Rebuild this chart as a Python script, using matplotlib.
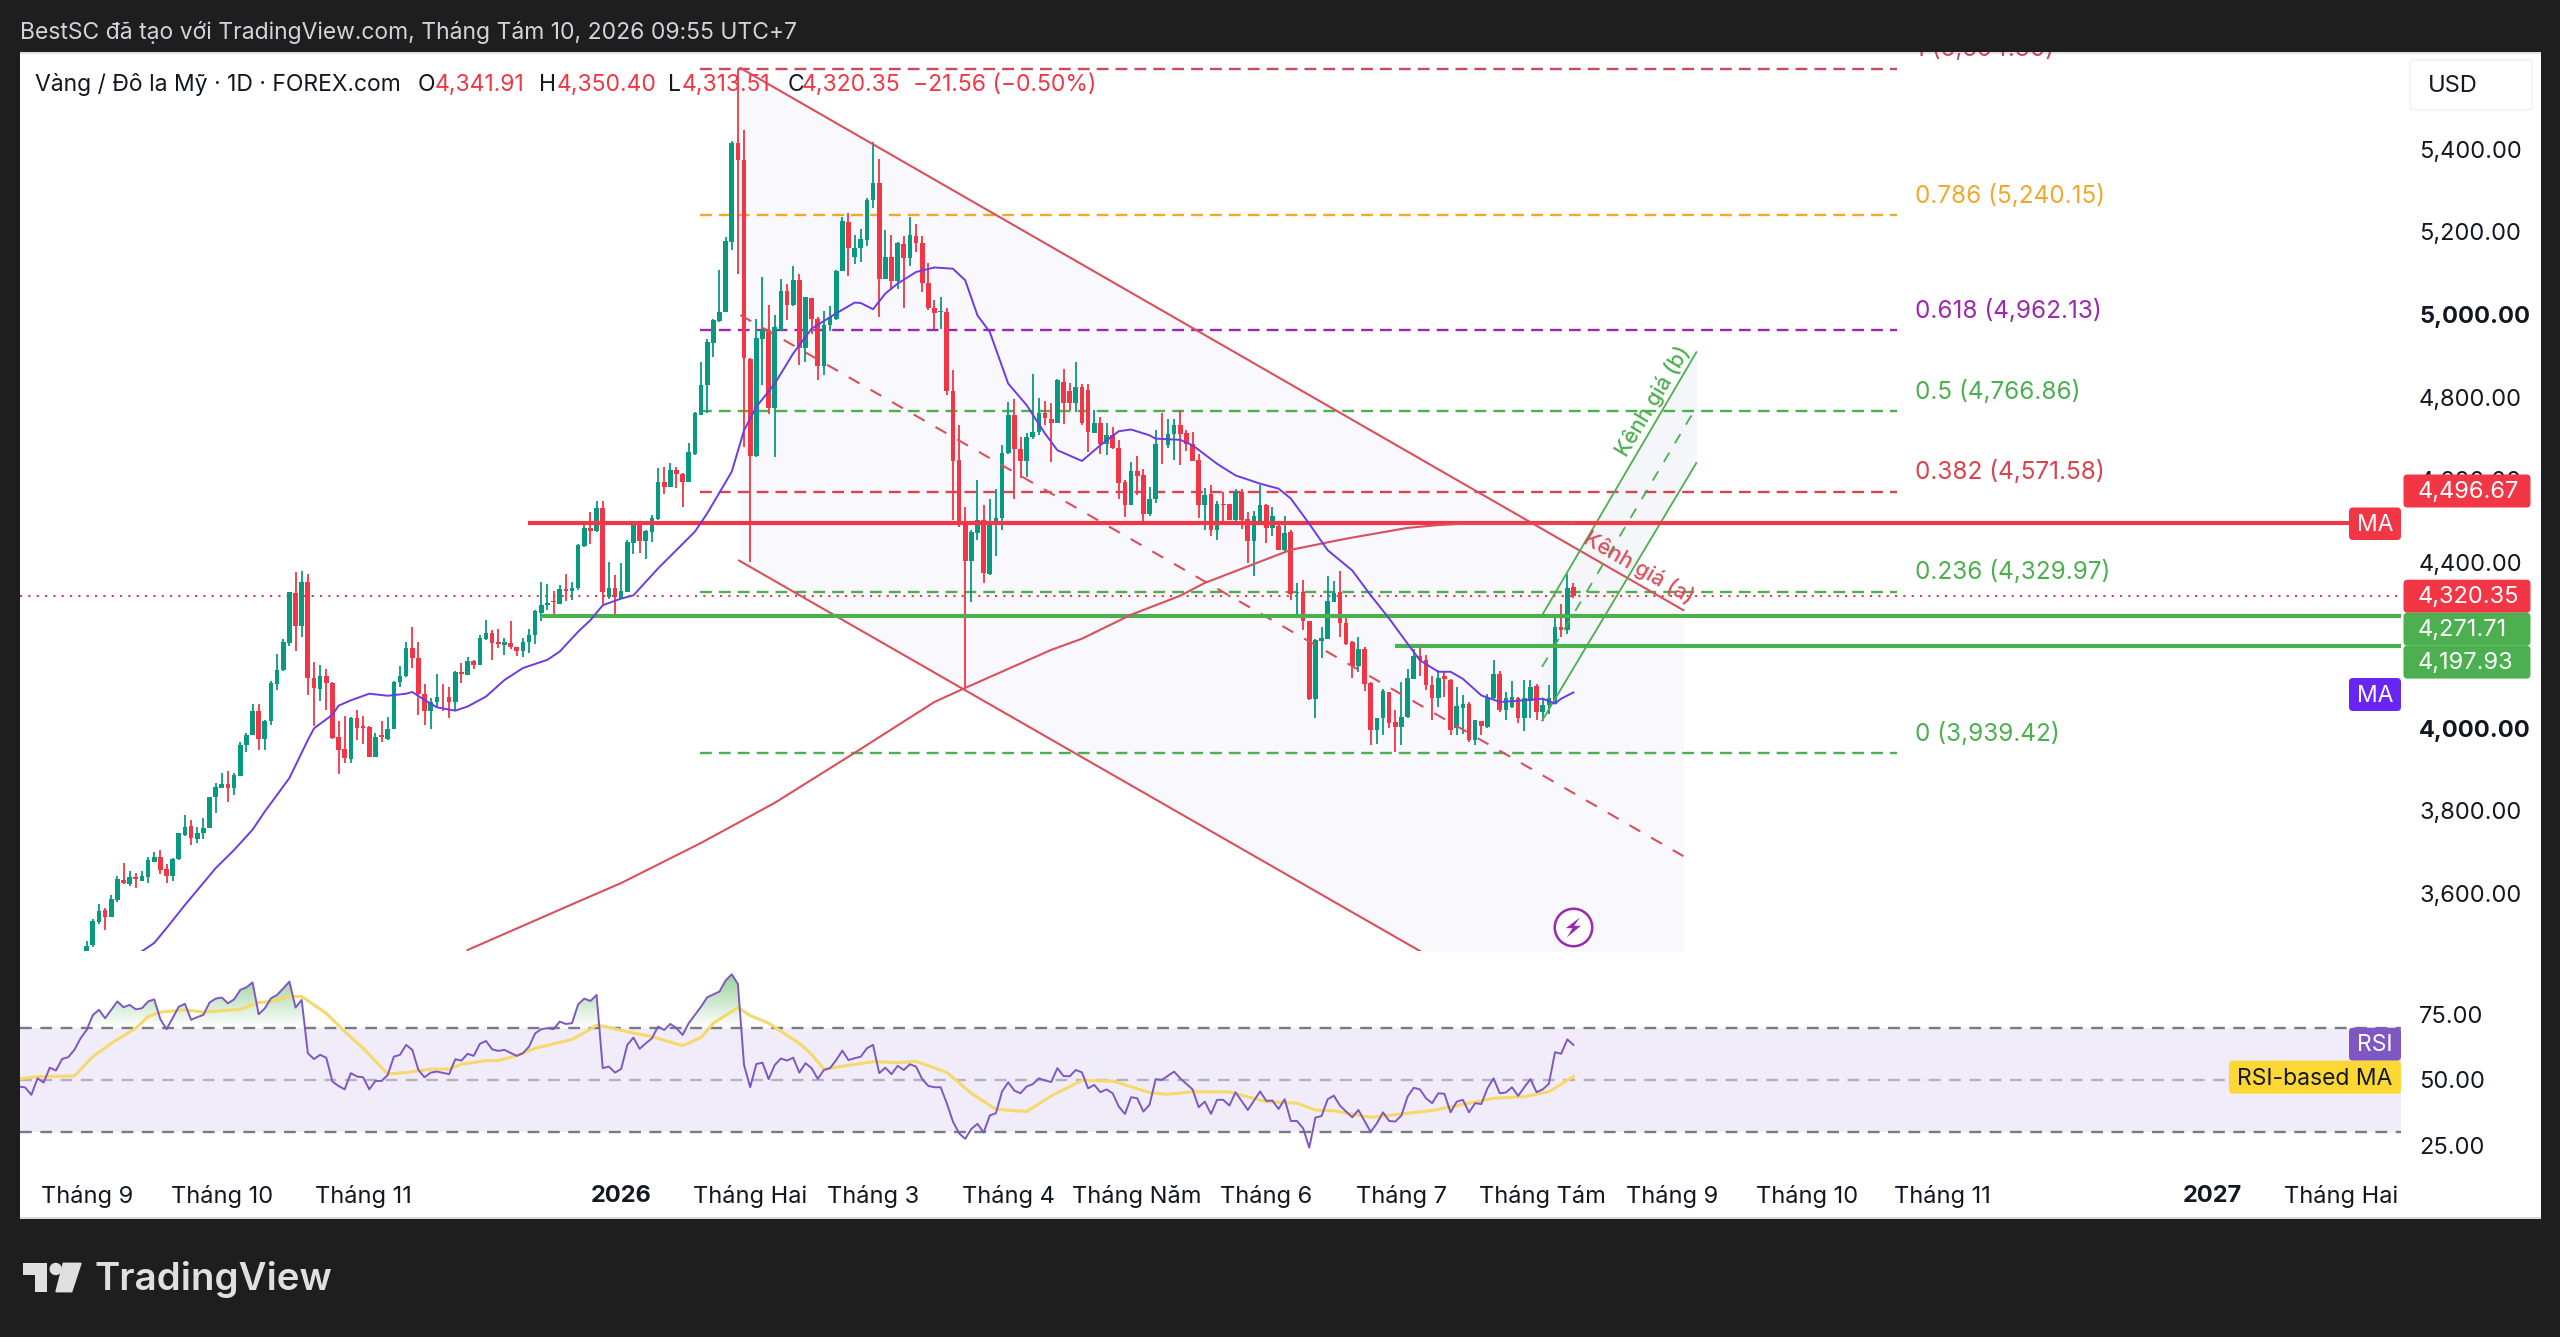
import numpy as np
from matplotlib import pyplot as plt
from matplotlib.patches import Rectangle, FancyBboxPatch, Polygon, Circle
from matplotlib.path import Path
from matplotlib.ticker import FixedLocator
from matplotlib.transforms import IdentityTransform

W, H = 2560, 1337

# candles, one value per trading day
opens = [3460,3476,3531,3559,3543,3585,3633,3623,3639,3631,
         3639,3677,3689,3659,3641,3683,3742,3762,3732,3746,
         3758,3832,3856,3865,3855,3885,3958,3984,4040,3974,
         4016,4107,4141,4205,4326,4247,4354,4122,4095,4126,
         4110,3979,3949,3925,4024,4004,4002,3929,3982,3974,
         3998,4112,4125,4193,4169,4083,4042,4064,4076,4075,
         4063,4135,4129,4161,4153,4215,4229,4207,4200,4205,
         4195,4187,4207,4225,4279,4298,4307,4300,4336,4332,4338,
         4440,4485,4477,4531,4317,4338,4313,4330,4448,
         4495,4453,4475,4505,4594,4583,4625,4614,4595,4664,
         4757,4829,4932,4984,5007,5176,5414,5375,4892,4658,
         4942,4962,4773,4962,5057,5023,5083,4918,5040,4990,
         4875,4974,4989,5106,5224,5140,5162,5181,5277,5319,
         5086,5140,5082,5170,5136,5190,5174,5077,5017,5006,
         5007,4816,4648,4499,4404,4471,4503,4372,4492,4507,
         4666,4757,4674,4646,4703,4716,4762,4747,4738,
         4838,4815,4785,4826,
         4818,4714,4738,4688,4708,4678,4595,
         4539,4621,4611,4517,4555,4688,4684,4712,4732,4713,
         4686,4649,4539,4565,4480,4543,4541,4502,4571,4505,
         4452,4490,4540,4485,4489,4430,4474,4327,4329,4259,
         4069,4211,4216,4305,4329,4255,4208,4149,4190,4109,
         3996,4023,4087,4015,4003,4027,4119,4173,4164,4103,
         4073,4125,4117,3999,4049,4059,3972,4017,4003,4073,
         4130,4044,4051,4073,4025,4065,4101,4039,4055,4059,
         4244,4236,4341.91]
highs = [3484,3539,3575,3564,3597,3643,3673,3655,3649,3655,
         3687,3700,3705,3672,3685,3747,3789,3778,3760,3782,
         3833,3868,3892,3895,3891,3967,3989,4057,4057,4020,
         4113,4178,4216,4329,4378,4379,4373,4159,4153,4142,
         4112,4016,4028,4026,4044,4028,4004,3989,4016,4026,
         4113,4149,4209,4244,4209,4106,4072,4131,4107,4099,
         4137,4158,4171,4165,4225,4262,4236,4239,4217,4258,
         4197,4217,4239,4286,4352,4349,4332,4347,4373,4354,4446,
         4493,4523,4549,4549,4402,4370,4400,4454,4499,
         4496,4480,4515,4628,4632,4640,4632,4617,4690,4764,
         4886,4940,4990,5109,5188,5420,5593,5447,4894,4990,
         5090,5023,4998,5085,5075,5118,5099,5043,5041,4994,
         5009,5020,5107,5235,5246,5192,5206,5281,5418,5377,
         5204,5192,5176,5190,5236,5220,5190,5126,5036,5043,
         5015,4866,4733,4535,4479,4600,4539,4553,4579,4684,
         4789,4797,4704,4714,4856,4799,4791,4785,4844,
         4868,4835,4885,4832,
         4831,4770,4752,4738,4728,4696,4599,
         4643,4657,4627,4583,4720,4762,4747,4747,4770,4722,
         4716,4663,4581,4587,4549,4571,4541,4579,4579,4522,
         4526,4589,4543,4535,4498,4513,4478,4351,4359,4260,
         4216,4244,4367,4355,4379,4269,4211,4219,4196,4111,
         4023,4095,4087,4043,4111,4142,4190,4200,4176,4125,
         4140,4136,4119,4099,4079,4063,4019,4017,4083,4164,
         4137,4087,4114,4075,4115,4117,4107,4073,4103,4267,
         4301,4372,4350.40]
lows = [3456,3470,3526,3512,3542,3580,3623,3619,3613,3630,
        3626,3675,3646,3626,3631,3681,3738,3718,3722,3732,
        3757,3794,3855,3820,3838,3884,3942,3983,3946,3946,
        4008,4091,4139,4199,4187,4221,4079,4005,4065,4044,
        3974,3888,3915,3915,3971,3962,3929,3929,3967,3971,
        3997,4098,4123,4145,4032,4008,3998,4052,4040,4023,
        4040,4110,4129,4142,4152,4212,4165,4193,4176,4191,
        4175,4171,4181,4204,4258,4286,4271,4299,4308,4310,4335,
        4438,4446,4475,4301,4313,4273,4311,4329,4422,
        4424,4408,4450,4504,4567,4582,4580,4535,4594,4660,
        4757,4761,4898,4982,5006,5156,5099,4680,4402,4656,
        4829,4759,4656,4961,4986,5020,4878,4886,4954,4841,
        4853,4961,4986,5105,5094,5122,5127,5165,5259,4994,
        5085,5059,5063,5015,5117,5152,5055,5011,4966,4966,
        4805,4503,4487,4098,4305,4454,4350,4370,4416,4480,
        4664,4555,4604,4608,4700,4708,4733,4644,4737,
        4735,4770,4765,4733,
        4668,4714,4663,4661,4676,4555,4510,
        4539,4563,4496,4512,4545,4639,4678,4649,4637,4670,
        4646,4509,4480,4464,4454,4490,4502,4501,4482,4399,
        4368,4490,4447,4464,4430,4423,4310,4270,4236,4067,
        4023,4170,4216,4305,4220,4200,4122,4136,4090,3959,
        3961,3982,3999,3942,3958,4025,4119,4127,4091,4019,
        4051,4075,3982,3982,3986,3966,3958,3982,4001,4071,
        4039,4020,4049,4011,3993,4023,4020,4017,4035,4059,
        4220,4228,4313.51]
closes = [3473,3532,3558,3544,3586,3634,3625,3639,3634,3641,
          3680,3689,3657,3641,3683,3746,3760,3733,3747,3758,
          3832,3857,3864,3855,3887,3959,3984,4040,3974,4017,
          4108,4141,4208,4328,4247,4354,4122,4096,4126,4110,
          3975,3947,3927,4025,4000,4000,3929,3979,3979,3998,
          4112,4125,4193,4169,4083,4042,4064,4075,4075,4063,
          4135,4130,4162,4153,4217,4229,4205,4204,4207,4195,
          4187,4208,4225,4282,4298,4303,4304,4336,4332,4338,4442,
          4483,4477,4533,4330,4338,4316,4332,4450,4495,
          4453,4477,4507,4595,4583,4625,4614,4595,4668,4762,
          4829,4934,4986,5007,5178,5415,5375,4894,4658,4944,
          4962,4773,4969,5057,5023,5083,4918,5043,4989,4875,
          4974,4994,5106,5227,5162,5162,5184,5278,5319,5087,
          5140,5082,5172,5136,5192,5173,5077,5015,5003,5009,
          4816,4646,4491,4404,4473,4503,4374,4493,4507,4666,
          4757,4676,4646,4703,4716,4762,4749,4738,4841,
          4785,4785,4825,4738,
          4716,4738,4688,4708,4678,4593,4539,
          4621,4610,4517,4555,4688,4686,4712,4734,4712,4686,
          4646,4539,4564,4480,4541,4539,4502,4571,4504,4452,
          4514,4539,4485,4514,4430,4472,4323,4329,4259,4069,
          4212,4218,4307,4327,4255,4204,4149,4190,4107,3996,
          4023,4090,4012,4003,4027,4122,4173,4164,4103,4073,
          4122,4119,3996,4053,4059,3972,4019,4004,4073,4130,
          4044,4073,4075,4025,4073,4099,4039,4055,4073,4244,
          4238,4339,4320.35]

# moving averages, as (bar, price) readings
ma50_bar = [9,11,13,16,21,24,27,29,33,36,37,40,41,43,46,49,52,53,55,57,60,62,65,68,71,75,77,80,
            82,84,87,89,93,99,101,105,107,109,112,115,118,122,125,126,128,130,132,135,138,141,143,
            145,147,150,153,156,158,162,165,168,170,173,174,178,180,184,187,191,194,196,199,202,206,
            209,212,215,217,220,222,224,227,230,234,237,239,240,242]
ma50_val = [3460,3480,3516,3572,3661,3705,3754,3798,3879,3971,3999,4032,4054,4067,4083,4078,4083,4087,
            4068,4050,4042,4052,4076,4116,4145,4165,4185,4233,
            4261,4297,4313,4321,4386,4475,4519,4620,4720,4777,4833,4906,4966,5003,5029,5028,5013,5051,
            5075,5103,5114,5111,5083,4998,4958,4833,4781,4712,4672,4646,4684,4718,4722,4708,4700,4697,
            4684,4639,4611,4591,4579,4555,4494,4430,4381,4321,4265,4204,4164,4136,4136,4119,4079,4063,
            4067,4071,4059,4071,4086]
ma200_bar = [62,80,87,100,112,125,138,143,157,162,170,178,182,196,205,215,220,224,240,242]
ma200_val = [3463,3580,3625,3722,3819,3940,4063,4097,4189,4216,4274,4320,4351,4431,4458,4484,4491,4494,4494,4496]

# RSI pane
rsi_bar = list(range(-11, 58)) + list(range(59, 69)) + list(range(70, 99)) + [100, 101] \
    + list(range(103, 176)) + [177, 178] + list(range(180, 188)) \
    + [189, 191] + list(range(192, 208)) + list(range(209, 243))
rsi_val = [47.5,47.1,44.3,50.6,49,54.7,53.6,58,58.7,61.5,65.9,69.1,74.8,76.8,73.6,76.8,80,77.8,78.7,77,77.4,80,80.8,73.2,69.4,
           73.7,78,79.1,73,74,74.9,79.6,81.1,81.5,79.3,80.8,84.4,85.4,87.3,75.1,77.4,81.2,82.5,85,87.6,77.7,80.6,60.2,58,59.6,58.5,
           49.4,47.7,46.4,52.6,51.3,51,46.4,49.6,49.6,51.9,58.9,59.6,63.4,61.5,53.8,51,52.8,53.2,
           52.2,57.9,57.4,60,59.2,63.8,64.9,61.7,61.1,61.5,
           59.2,60.2,62.7,67.8,69.4,69.8,69.4,72.3,71.4,71.7,78.9,81.1,80.2,82.5,54.5,55.1,52.8,54.2,63.4,66.2,61.9,64,65.9,70.4,69.1,71.4,69.8,67.2,71.7,
           78,81.6,
           83.8,88,90.4,86.7,55.7,47.2,56.1,56.6,50.3,55.7,58.2,57.4,58.5,52.8,56.4,54.5,50.4,53.8,54.5,57.6,61.2,57.6,58.3,58.9,62.1,63.4,52.6,54.7,52.2,55.4,53.8,56,55.1,50.3,47.7,47.2,47.2,41.1,34.1,29.6,27.5,31.3,33.2,29.9,36.4,37.3,45.6,49.1,45.9,44.9,47.5,48.4,50.6,49.8,49.2,54.5,51.5,51.4,53.8,52.9,46.8,48.1,45.3,46.4,44.9,39.8,37,43.4,43,37.9,40.5,50.3,50,
           53.2,50.6,
           46.4,39.6,41.7,37,42.4,42.4,40.2,45.3,
           38.5,45.6,
           42,42.1,38.9,42.6,34.3,34.3,31.5,24.1,35.6,36.2,42.6,44,40.2,37.9,35.7,38.5,
           30.1,33.4,37.6,34.3,34.1,36.4,43.6,47,46.4,43,41.1,44.9,44.7,37.6,41.7,42.4,37.6,41.1,40.8,46.8,50.6,44.9,45.2,47.2,43.9,47.2,50.3,45.3,46.4,48.5,60.6,60,65.5,63.4]
rsi_ma_bar = [-11,-8,-2,1,4,8,10,12,16,19,22,25,28,30,33,35,39,42,45,49,52,56,59,61,65,67,70,73,79,82,83,85,88,92,97,
              100,102,106,108,111,116,118,120,124,128,132,135,140,144,148,153,157,162,167,173,176,180,186,192,197,
              200,203,209,219,225,229,234,238,242]
rsi_ma_val = [50.4,51.3,51.5,58.9,64,69.8,74.2,75.9,76.8,75.9,76.5,77,79.6,80,81.9,81.9,75.5,68.5,62.1,52.3,52.8,54.1,54.2,56,57.4,57.4,59.3,62.1,65.5,69.4,71,70.1,68.4,66.6,63.1,
              66.2,71.7,77.7,74.6,71.7,64,59.8,54.1,55.6,57,56.6,57.1,52.9,44.9,38.8,37.9,43.9,49.8,49.6,45.2,44.5,45.5,45.4,41.7,41.1,
              38.5,38.2,35.7,38.3,41.1,43,43.6,45.5,51.3]

# fib levels: ratio, price, colour
fib_ratio = ['1', '0.786', '0.618', '0.5', '0.382', '0.236', '0']
fib_price = [5594.30, 5240.15, 4962.13, 4766.86, 4571.58, 4329.97, 3939.42]
fib_color = ['#c94a5b', '#f0a92a', '#9c27b0', '#4caf50', '#d8434f', '#4caf50', '#4caf50']

# 4,200.00 sits behind the price tags in the picture, so it is left out
price_ticks = [3600, 3800, 4000, 4400, 4600, 4800, 5000, 5200, 5400]
rsi_ticks = [25, 50, 75]
time_bars = [0, 22, 45, 87, 108, 128, 150, 171, 192, 214, 237, 258, 280, 302, 346, 367]
time_labels = ['Tháng 9', 'Tháng 10', 'Tháng 11', '2026', 'Tháng Hai', 'Tháng 3', 'Tháng 4', 'Tháng Năm',
               'Tháng 6', 'Tháng 7', 'Tháng Tám', 'Tháng 9', 'Tháng 10', 'Tháng 11', '2027', 'Tháng Hai']

# drawn channels, (bar, price) ends
red_top = ([106.4, 259.9], [5596.5, 4285])
red_mid = ([106.4, 259.9], [4999, 3690])
red_low = ([106.2, 259.9], [4405, 3095])
green_top = ([236.9, 262], [4273, 4909])
green_mid = ([236.9, 262], [4148, 4776])
green_low = ([236.9, 262], [4018, 4641])

RED = '#f23645'
GREEN = '#089981'
LINE_GREEN = '#4caf50'
PURPLE = '#7e57c2'
YELLOW = '#f5d96b'

plt.rcParams['font.family'] = ['Inter', 'DejaVu Sans']
plt.rcParams['font.size'] = 17


def fx(x):
    return x / W


def fy(y):
    return 1 - y / H


def box(x0, y0, x1, y1, color, zorder=5, rounded=False, edge='none'):
    if rounded:
        p = FancyBboxPatch((x0, H - y1), x1 - x0, y1 - y0, boxstyle='round,pad=0,rounding_size=4',
                           transform=IdentityTransform(), facecolor=color, edgecolor=edge,
                           linewidth=1.5, zorder=zorder)
    else:
        p = Rectangle((x0, H - y1), x1 - x0, y1 - y0, transform=IdentityTransform(),
                      facecolor=color, edgecolor=edge, zorder=zorder)
    fig.add_artist(p)
    return p


def label(x, y, s, color='#131722', size=17, ha='left', weight='normal', zorder=6):
    return fig.text(fx(x), fy(y), s, color=color, fontsize=size, ha=ha, va='center', fontweight=weight, zorder=zorder)


fig = plt.figure(figsize=(W / 100, H / 100), dpi=100, facecolor='#1e1e1e')
box(20, 52, 2541, 1219, 'white', zorder=-2)
box(20, 1217, 2541, 1219, '#d9d9d9', zorder=-1)
box(20, 52, 2541, 54, '#e2e2e2', zorder=-1)

ax = fig.add_axes([fx(20), fy(951), (2401 - 20) / W, (951 - 52) / H], facecolor='none')
ax2 = fig.add_axes([fx(20), fy(1172), (2401 - 20) / W, (1172 - 951) / H], facecolor='none')

xlim = (-10.85, 376.7)
bars = np.arange(len(opens))
o = np.array(opens)
c = np.array(closes)
up = c >= o

# channel shading first, everything else goes on top
ax.fill_between(red_top[0], red_top[1], red_low[1], color='#f9f8fd', lw=0, zorder=1)
ax.fill_between(green_top[0], green_top[1], green_low[1], color='#f4f6fa', lw=0, zorder=1.1)

for ratio, price, col in zip(fib_ratio, fib_price, fib_color):
    ax.plot([99.8, 294.7], [price, price], color=col, lw=1.7, dashes=(5, 3), zorder=2)
    ax.text(297.6, price + 47, '%s (%s)' % (ratio, format(price, ',.2f')), color=col, fontsize=17.5,
            va='center', ha='left', clip_on=True, zorder=2)

ax.axhline(closes[-1], color=RED, lw=1.5, ls=(0, (1, 3)), zorder=2)

# candles
ax.vlines(bars, lows, highs, colors=[GREEN if u else RED for u in up], lw=1.3, zorder=3)
ax.bar(bars[up], (c - o)[up], bottom=o[up], width=0.76, color=GREEN, lw=0, zorder=3.1)
ax.bar(bars[~up], (o - c)[~up], bottom=c[~up], width=0.76, color=RED, lw=0, zorder=3.1)

ax.plot(*red_top, color='#d9505c', lw=1.5, zorder=4)
ax.plot(*red_low, color='#d9505c', lw=1.5, zorder=4)
ax.plot(*red_mid, color='#d9505c', lw=1.5, dashes=(6, 6), zorder=4)
ax.plot(*green_top, color=LINE_GREEN, lw=1.3, zorder=4)
ax.plot(*green_low, color=LINE_GREEN, lw=1.3, zorder=4)
ax.plot(*green_mid, color=LINE_GREEN, lw=1.3, dashes=(6, 6), zorder=4)

ax.plot([71.8, 368.2], [4496.67, 4496.67], color=RED, lw=3, solid_capstyle='butt', zorder=4.2)
ax.plot([74, 377], [4271.71, 4271.71], color=LINE_GREEN, lw=3, solid_capstyle='butt', zorder=4.2)
ax.plot([213, 377], [4197.93, 4197.93], color=LINE_GREEN, lw=3, solid_capstyle='butt', zorder=4.2)

ax.plot(ma200_bar, ma200_val, color='#d9505c', lw=1.5, zorder=4.4)
ax.plot(ma50_bar, ma50_val, color='#6c3be4', lw=1.4, zorder=4.5)

ax.text(252.6, 4388, 'Kênh giá (a)', color='#d9505c', fontsize=15.5, fontweight='medium', rotation=-30,
        ha='center', va='center', rotation_mode='anchor', zorder=5)
ax.text(255, 4790, 'Kênh giá (b)', color=LINE_GREEN, fontsize=15.5, fontweight='medium', rotation=59,
        ha='center', va='center', rotation_mode='anchor', zorder=5)

# replay icon, circle with a bolt
bolt = Path([(19, 30), (-23, -2), (-3, -2), (-20, -30), (22, 5), (2, 5), (19, 30)], closed=True)
ax.scatter([241.9], [3519], s=729, facecolor='white', edgecolor='#9c27b0', linewidth=1.8, zorder=5)
ax.scatter([241.9], [3519], s=207, marker=bolt, color='#9c27b0', linewidth=0, zorder=5.1)

ax.set_xlim(xlim)
ax.set_ylim(3460.6, 5635.2)
ax.yaxis.tick_right()
ax.set_yticks(price_ticks)
ax.set_yticklabels([format(t, ',.2f') for t in price_ticks], color='#131722')
for t, lab in zip(price_ticks, ax.get_yticklabels()):
    if t in (4000, 5000):
        lab.set_fontweight('bold')
ax.tick_params(axis='y', length=0, pad=13)
ax.tick_params(axis='x', length=0, labelbottom=False)
for s in ax.spines.values():
    s.set_visible(False)

# RSI pane
ax2.axhspan(30, 70, color='#f1ecfa', lw=0, zorder=1)
ax2.plot(rsi_bar, rsi_val, color=PURPLE, lw=1.4, zorder=4)
ax2.plot(rsi_ma_bar, rsi_ma_val, color=YELLOW, lw=2.2, zorder=3.5)
ax2.axhline(70, color='#787b86', lw=1.7, dashes=(5, 3.6), zorder=2)
ax2.axhline(50, color='#b4b2bb', lw=1.7, dashes=(5, 3.6), zorder=2)
ax2.axhline(30, color='#787b86', lw=1.7, dashes=(5, 3.6), zorder=2)

# overbought gradient, clipped to the area between RSI and the 70 line
xs = np.arange(rsi_bar[0], rsi_bar[-1] + 0.05, 0.05)
ys = np.interp(xs, rsi_bar, rsi_val)
clip = Polygon(np.column_stack([np.r_[xs[0], xs, xs[-1]], np.r_[70, np.maximum(ys, 70), 70]]),
               transform=ax2.transData, facecolor='none', edgecolor='none')
ax2.add_patch(clip)
grad = np.zeros((64, 2, 4))
grad[..., 0] = 0.30
grad[..., 1] = 0.69
grad[..., 2] = 0.31
grad[..., 3] = np.linspace(0.62, 0, 64)[:, None]
im = ax2.imshow(grad, extent=[xlim[0], xlim[1], 70, 92], origin='upper', aspect='auto', zorder=3)
im.set_clip_path(clip)

ax2.set_xlim(xlim)
ax2.set_ylim(14.8, 99.3)
ax2.yaxis.tick_right()
ax2.set_yticks(rsi_ticks)
ax2.set_yticklabels([format(t, '.2f') for t in rsi_ticks], color='#131722')
ax2.xaxis.set_major_locator(FixedLocator(time_bars))
ax2.set_xticklabels(time_labels, color='#131722')
for t, lab in zip(time_labels, ax2.get_xticklabels()):
    if t.isdigit():
        lab.set_fontweight('bold')
ax2.tick_params(axis='y', length=0, pad=13)
ax2.tick_params(axis='x', length=0, pad=9)
for s in ax2.spines.values():
    s.set_visible(False)

# header, legend line
label(20, 33, 'BestSC đã tạo với TradingView.com, Tháng Tám 10, 2026 09:55 UTC+7', color='#d1d4dc', size=16.5)
label(35, 85, 'Vàng / Đô la Mỹ · 1D · FOREX.com', size=16.5)
for x_l, letter, x_v, val in [(418, 'O', 435, '4,341.91'), (539, 'H', 557, '4,350.40'),
                              (668, 'L', 682, '4,313.51'), (788, 'C', 802, '4,320.35')]:
    label(x_l, 85, letter, size=16.5)
    label(x_v, 85, val, color=RED, size=16.5)
label(913, 85, '−21.56 (−0.50%)', color=RED, size=16.5)

# price tags on the axis
box(2410, 60, 2532, 110, 'white', rounded=True, edge='#f0f3fa')
label(2428, 86, 'USD', size=17)
for y0, txt, col in [(474.5, '4,496.67', RED), (579.7, '4,320.35', RED),
                     (612.7, '4,271.71', LINE_GREEN), (645.6, '4,197.93', LINE_GREEN)]:
    box(2403.5, y0, 2530.5, y0 + 33, col, rounded=True)
    label(2418, y0 + 17.5, txt, color='white', size=17, zorder=7)
box(2349, 507.5, 2401, 540, RED, rounded=True)
label(2375, 525, 'MA', color='white', size=16.5, ha='center')
box(2349, 678, 2401, 711, '#6a25f4', rounded=True)
label(2375, 696, 'MA', color='white', size=16.5, ha='center')
box(2349, 1027.7, 2401, 1060.7, PURPLE, rounded=True)
label(2375, 1045, 'RSI', color='white', size=16.5, ha='center')
box(2229, 1060.7, 2401, 1093.7, '#fdd835', rounded=True)
label(2315, 1079, 'RSI-based MA', color='#131722', size=16.5, ha='center')

# logo
logo = '#e0e0e0'
box(23.3, 1263.3, 46.7, 1275, logo)
box(35, 1263.3, 46.7, 1291.7, logo)
fig.add_artist(Circle((55.7, H - 1269), 5.5, transform=IdentityTransform(), color=logo))
fig.add_artist(Polygon([(63.3, H - 1263.3), (81, H - 1263.3), (71.7, H - 1291.7), (56, H - 1291.7)],
                       transform=IdentityTransform(), color=logo))
label(95, 1279, 'TradingView', color=logo, size=27.7, weight='semibold')

fig.savefig('out.png', dpi=100, facecolor=fig.get_facecolor())
